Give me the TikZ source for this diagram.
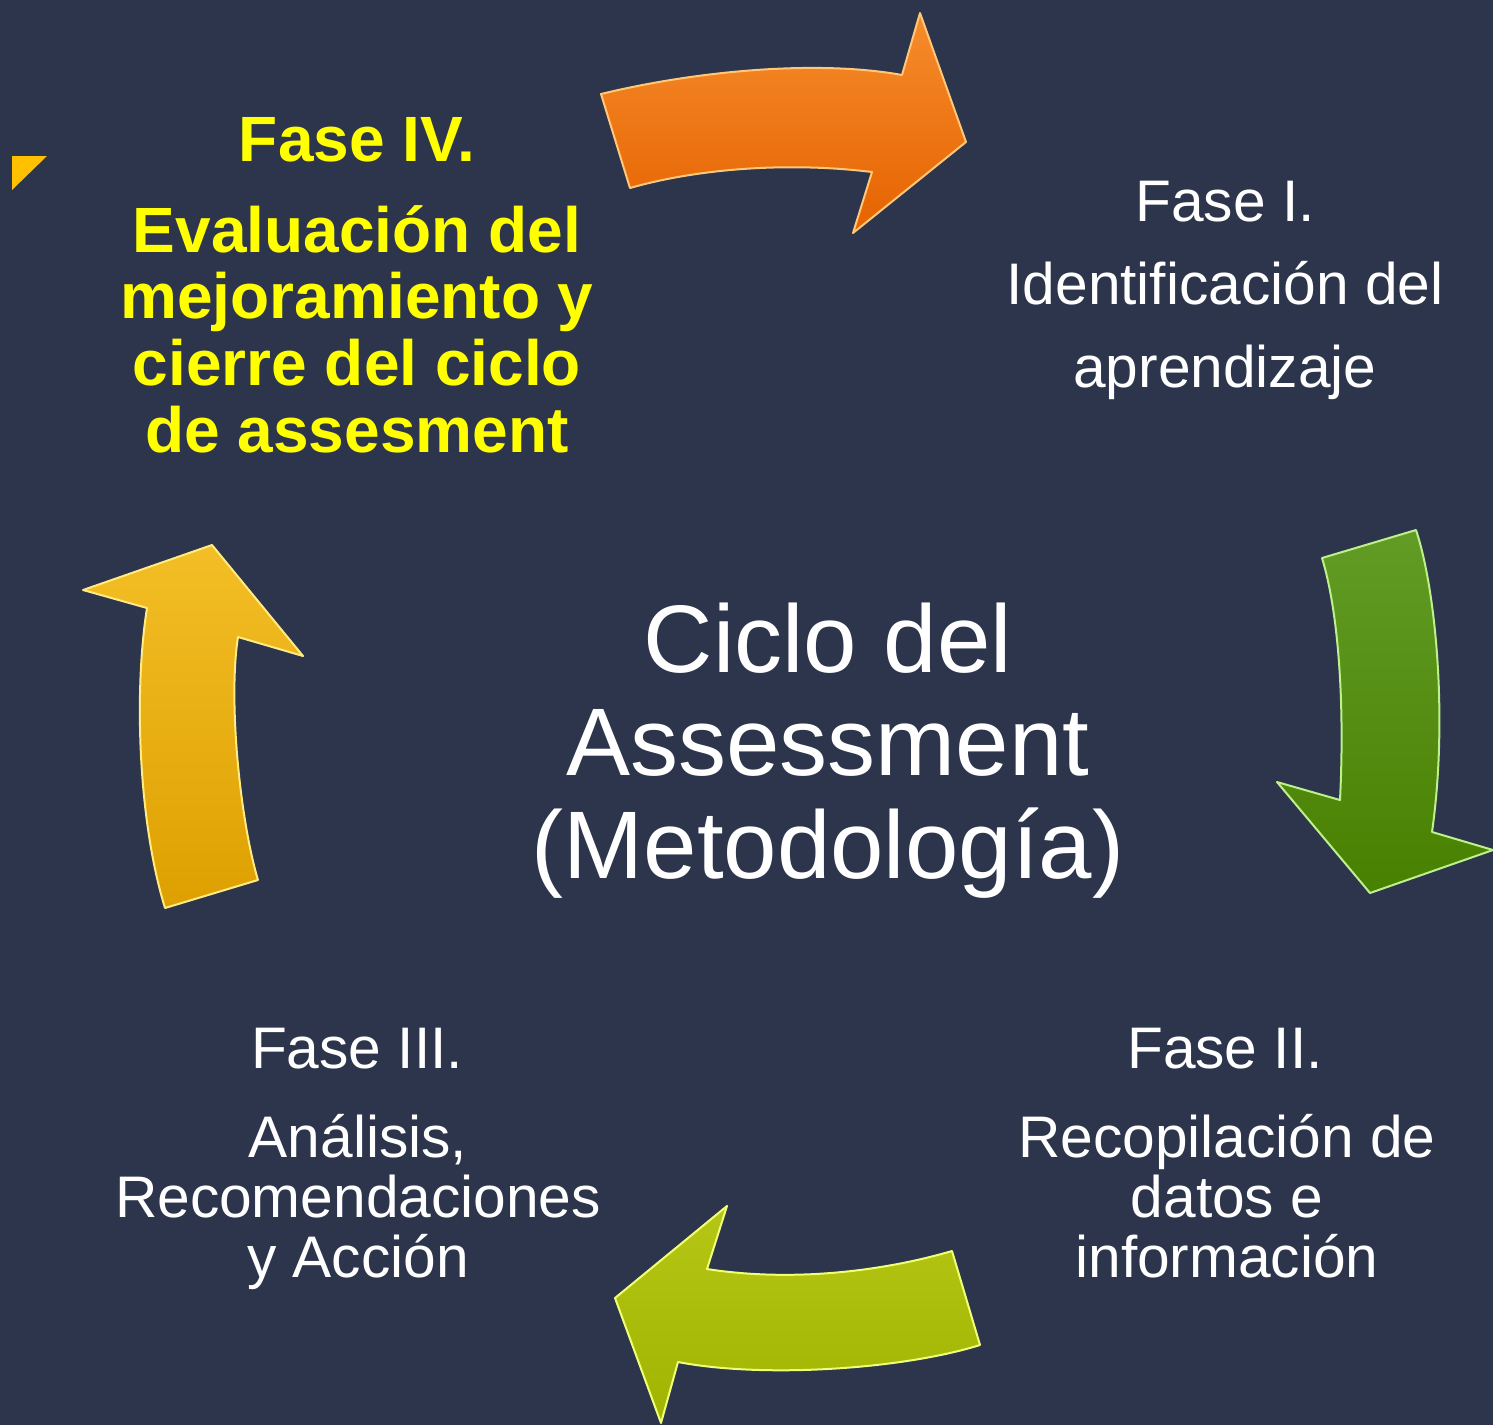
\documentclass[tikz,border=0pt]{standalone}
\usepackage{fontspec}
\setmainfont{Liberation Sans}

\definecolor{bgnavy}{RGB}{44,53,75}
\definecolor{faseyellow}{RGB}{255,255,0}
\definecolor{orangetop}{RGB}{246,140,44}
\definecolor{orangebot}{RGB}{230,98,0}
\definecolor{orangelite}{RGB}{255,200,120}
\definecolor{greentop}{RGB}{98,156,38}
\definecolor{greenbot}{RGB}{72,128,0}
\definecolor{greenlite}{RGB}{190,240,140}
\definecolor{limetop}{RGB}{182,198,22}
\definecolor{limebot}{RGB}{160,180,0}
\definecolor{limelite}{RGB}{240,255,120}
\definecolor{goldtop}{RGB}{243,190,38}
\definecolor{goldbot}{RGB}{222,160,0}
\definecolor{goldlite}{RGB}{255,235,130}
\definecolor{marker}{RGB}{255,192,0}

\tikzset{every picture/.style={line width=0.75pt}}
\tikzset{
	fase head/.style={text=white, inner sep=0pt, anchor=base, font=\fontsize{44}{50}\selectfont},
	fase body/.style={text=white, inner sep=0pt, anchor=base, align=center},
	fase four/.style={text=faseyellow, inner sep=0pt, anchor=base, align=center, font=\bfseries\fontsize{48}{50}\selectfont},
	bevel/.style={line width=1.5pt, line join=round}}

\begin{document}
\begin{tikzpicture}[x=0.75pt,y=0.75pt,yscale=-1,xscale=1]
	%set diagram left start at 0, and has height of 1425
	\fill [bgnavy] (0,0) rectangle (1493,1425);
	\useasboundingbox (0,0) rectangle (1493,1425);

	%Shape: Triangle [id:marker]
	\fill [marker] (12,156) -- (47,156) -- (12,190) -- cycle ;

	%Shape: Curved Right Arrow [id:orange]
	\shade [top color=orangetop, bottom color=orangebot, draw=orangelite, bevel]  (601,94) .. controls (700,70) and (820,60) .. (902,75) -- (920,13) -- (966,142) -- (853,233) -- (872,172) .. controls (790,162) and (700,168) .. (630,188) -- cycle ;
	%Shape: Curved Down Arrow [id:green]
	\shade [top color=greentop, bottom color=greenbot, draw=greenlite, bevel]  (1322,558) -- (1416,530) .. controls (1436,590) and (1448,720) .. (1432,832) -- (1493,850) -- (1370,893) -- (1277,782) -- (1340,800) .. controls (1345,700) and (1338,610) .. (1322,558) -- cycle ;
	%Shape: Curved Left Arrow [id:lime]
	\shade [top color=limetop, bottom color=limebot, draw=limelite, bevel]  (952,1251) -- (980,1345) .. controls (900,1370) and (760,1378) .. (678,1362) -- (661,1423) -- (615,1298) -- (727,1206) -- (707,1269) .. controls (790,1282) and (880,1272) .. (952,1251) -- cycle ;
	%Shape: Curved Up Arrow [id:gold]
	\shade [top color=goldtop, bottom color=goldbot, draw=goldlite, bevel]  (165,908) -- (258,880) .. controls (240,820) and (228,700) .. (238,637) -- (303,656) -- (212,545) -- (83,590) -- (147,608) .. controls (134,690) and (138,820) .. (165,908) -- cycle ;

	% Text Node
	\draw (357,161) node [fase four] (faseIV) {Fase IV.};
	% Text Node (base = last line)
	\draw (357,452) node [fase four] (faseIVtxt) {Evaluación del\\mejoramiento y\\cierre del ciclo\\de assesment};
	% Text Node
	\draw (1225,221) node [fase head] (faseI) {Fase I.};
	% Text Node
	\draw (1225,387) node [fase body, font=\fontsize{44}{62}\selectfont] (faseItxt) {Identificación del\\aprendizaje};
	% Text Node
	\draw (1225,1068) node [fase head] (faseII) {Fase II.};
	% Text Node
	\draw (1227,1277) node [fase body, font=\fontsize{44}{45}\selectfont] (faseIItxt) {Recopilación de\\datos e\\información};
	% Text Node
	\draw (357,1068) node [fase head] (faseIII) {Fase III.};
	% Text Node
	\draw (358,1277) node [fase body, font=\fontsize{44}{45}\selectfont] (faseIIItxt) {Análisis,\\Recomendaciones\\y Acción};
	% Text Node
	\draw (828,878) node [fase body, font=\fontsize{72}{77}\selectfont] (ciclo) {Ciclo del\\Assessment\\(Metodología)};

\end{tikzpicture}
\end{document}
